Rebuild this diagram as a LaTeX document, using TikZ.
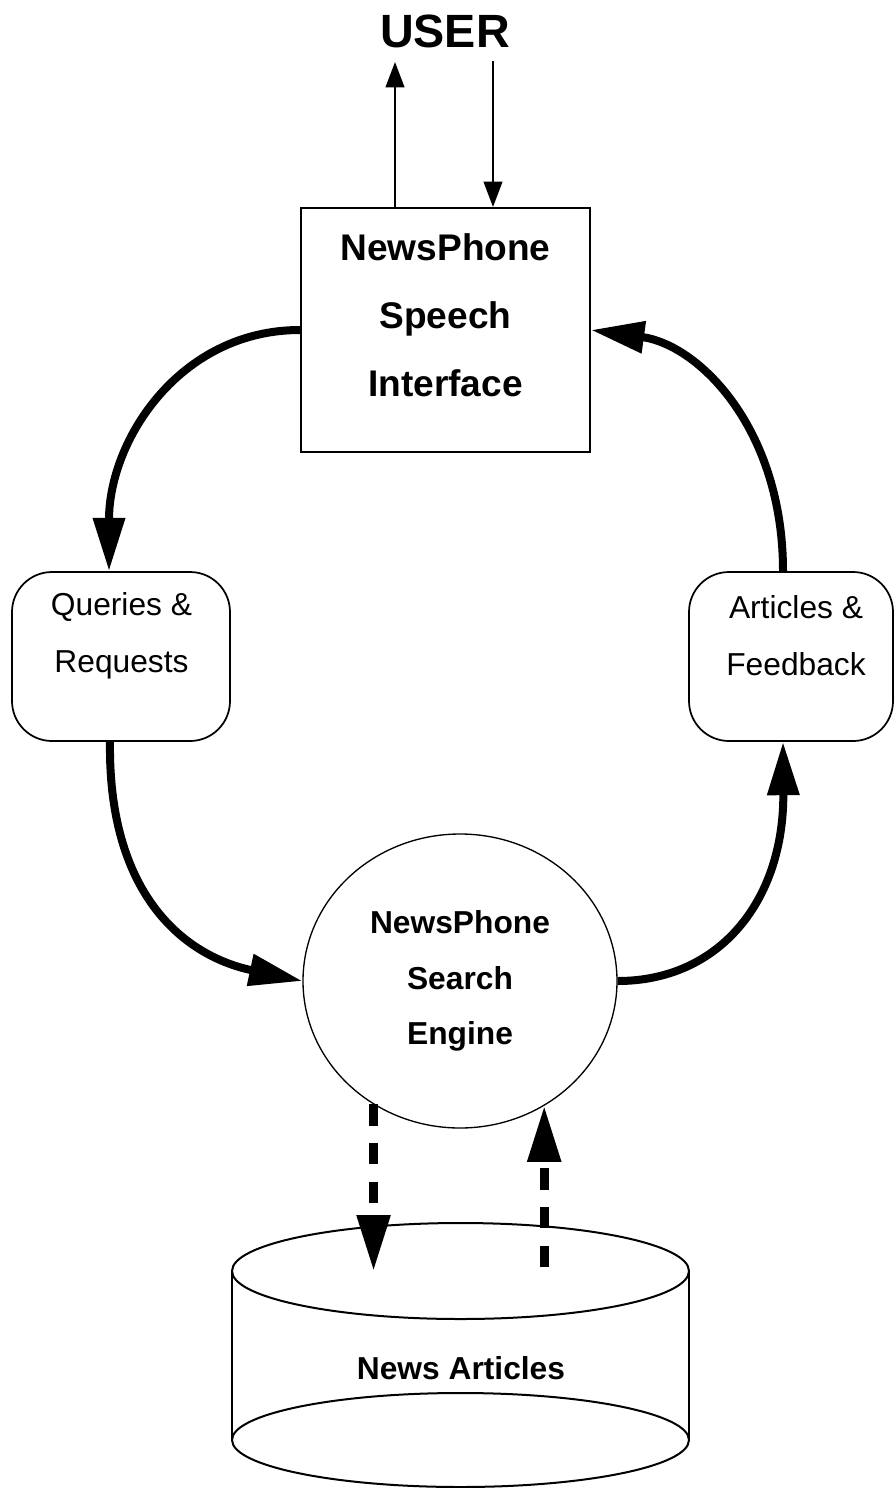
\documentclass[tikz,border=0pt]{standalone}
\usepackage{fontspec}
\setmainfont{Liberation Sans}
\usetikzlibrary{arrows.meta,shapes.geometric}
\tikzset{every picture/.style={line width=0.7pt}}
\tikzset{
  plainbox/.style={draw,line width=1.5pt,inner sep=0pt},
  roundbox/.style={draw,line width=1.3pt,rounded corners=30pt,inner sep=0pt},
  boxtxt/.style={font=\fontsize{27.8}{51}\selectfont\bfseries,align=center,inner sep=0pt},
  enginetxt/.style={font=\fontsize{23.8}{41.5}\selectfont\bfseries,align=center,inner sep=0pt},
  roundtxt/.style={font=\fontsize{23.8}{42.75}\selectfont,align=center,inner sep=0pt},
  flowarrow/.style={line width=6pt,-{Triangle[length=40pt,width=23pt]}},
  dasharrow/.style={line width=6.5pt,dash pattern=on 16pt off 13pt,-{Triangle[length=42pt,width=24pt]}},
  userarrow/.style={line width=1.5pt,-{Triangle[length=19pt,width=14pt]}},
}

\begin{document}
\begin{tikzpicture}[x=0.75pt,y=0.75pt,yscale=-1,xscale=1]
\useasboundingbox (0,0) rectangle (895,1488);

% user and speech interface
\node (user) at (445,31) [inner sep=0pt,font=\fontsize{35}{40}\selectfont\bfseries] {USER};
\node (sif) at (445.5,330) [plainbox,minimum width=216.75pt,minimum height=183pt] {};
\node (siftxt) at (445.5,315) [boxtxt] {NewsPhone\\Speech\\Interface};
\coordinate (uout) at (395,62);
\coordinate (uin) at (493,61);
\draw[userarrow] (uout |- sif.north) -- (uout);
\draw[userarrow] (uin) -- (uin |- sif.north);

% rounded boxes
\node (qr) at (121,656.5) [roundbox,minimum width=163.5pt,minimum height=126.75pt] {};
\node (qrtxt) at (121.5,635.5) [roundtxt] {Queries \&\\Requests};
\node (af) at (791,656.5) [roundbox,minimum width=153pt,minimum height=126.75pt] {};
\node (aftxt) at (796,635.5) [roundtxt] {Articles \&\\Feedback};

% search engine
\node (se) at (460,981) [ellipse,draw,line width=1pt,minimum width=235.5pt,minimum height=220.5pt,enginetxt] {NewsPhone\\Search\\Engine};

% database
\coordinate (dbtop) at (460.5,1271);
\coordinate (dbbot) at (460.5,1440);
\draw[line width=1.5pt] (dbtop) ellipse [x radius=228.5, y radius=48];
\draw[line width=1.5pt] (dbbot) ellipse [x radius=228.5, y radius=47];
\draw[line width=1.5pt] ([xshift=-171.4pt]dbtop) -- ([xshift=-171.4pt]dbbot);
\draw[line width=1.5pt] ([xshift=171.4pt]dbtop) -- ([xshift=171.4pt]dbbot);
\node (db) at (461,1368) [enginetxt] {News Articles};

% flow
\draw[flowarrow] (sif.west) .. controls (180,330) and (109,440) .. ([xshift=-9pt]qr.north);
\draw[flowarrow] ([xshift=-8.25pt]qr.south) .. controls (108,890) and (180,955) .. (se.west);
\draw[flowarrow] (se.east) .. controls (720,981) and (784,900) .. ([xshift=-6pt]af.south);
\draw[flowarrow] ([xshift=-6pt]af.north) .. controls (783,430) and (700,345) .. (sif.east);
\draw[dasharrow] (se.235.5) -- (se.235.5 |- dbtop);
\draw[dasharrow] ([yshift=-3pt]se.304 |- dbtop) -- (se.304);

\end{tikzpicture}
\end{document}
